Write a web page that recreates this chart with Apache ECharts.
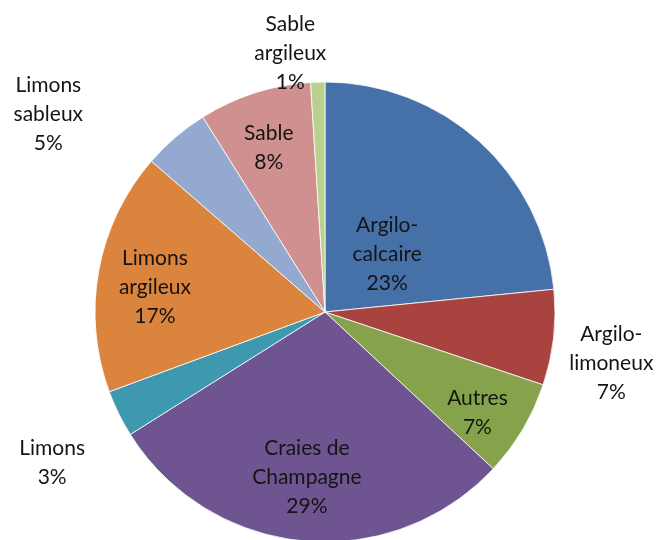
<!DOCTYPE html>
<html lang="fr">
<head>
    <meta charset="utf-8">
    <title>Types de sols</title>
    <script src="https://cdn.jsdelivr.net/npm/echarts@6/dist/echarts.min.js"></script>
    <style>
        html, body { margin: 0; padding: 0; background: #fff; }
        #chart { width: 657px; height: 540px; }
    </style>
</head>
<body>
<div id="chart"></div>
<script type="text/javascript">
// types de sols (lecture sur l'image), sens horaire depuis midi
var soilNames = ['Argilo-\ncalcaire', 'Argilo-\nlimoneux', 'Autres', 'Craies de\nChampagne', 'Limons',
                 'Limons\nargileux', 'Limons\nsableux', 'Sable', 'Sable\nargileux'];
var soilShare = [23.4, 6.7, 6.8, 29.1, 3.3, 17.0, 4.7, 7.9, 1.0];
var soilColors = ['#4570a8', '#a8433f', '#86a34c', '#6e5490', '#3d98b0',
                  '#db843d', '#93a9d0', '#d09090', '#b9d18e'];

// decalage des etiquettes par rapport a la position "inside" d'echarts
var labelNudge = [[-17, 30], [169, 38], [51, 40], [-7, 48], [-167, 99],
                  [-54, -4], [-200, -108], [-20, -52], [-31, -141]];

var dom = document.getElementById('chart');
var myChart = echarts.init(dom, null, {renderer: 'canvas'});

var pieData = soilNames.map(function (name, i) {
    return {name: name, value: soilShare[i], itemStyle: {color: soilColors[i]}};
});

var option = {
    backgroundColor: '#fff',
    animation: false,
    series: [
        {
            type: 'pie',
            center: [325, 312],
            radius: [0, 230],
            startAngle: 90,
            clockwise: true,
            percentPrecision: 0,
            avoidLabelOverlap: false,
            itemStyle: {borderColor: 'rgba(255,255,255,0.8)', borderWidth: 1},
            label: {
                show: true,
                position: 'inside',
                formatter: function (p) {
                    return p.name.split('\n').map(function (s) {
                        return '{t|' + s + '}';
                    }).join('\n') + '\n{t|' + p.percent + '%}';
                },
                rich: {
                    t: {
                        fontFamily: 'Lato',
                        fontSize: 21,
                        color: '#141414',
                        lineHeight: 29,
                        align: 'center'
                    }
                }
            },
            labelLine: {show: false},
            labelLayout: function (params) {
                var n = labelNudge[params.dataIndex];
                return {dx: n[0], dy: n[1]};
            },
            emphasis: {disabled: true},
            data: pieData
        }
    ]
};

myChart.setOption(option);
</script>
</body>
</html>
